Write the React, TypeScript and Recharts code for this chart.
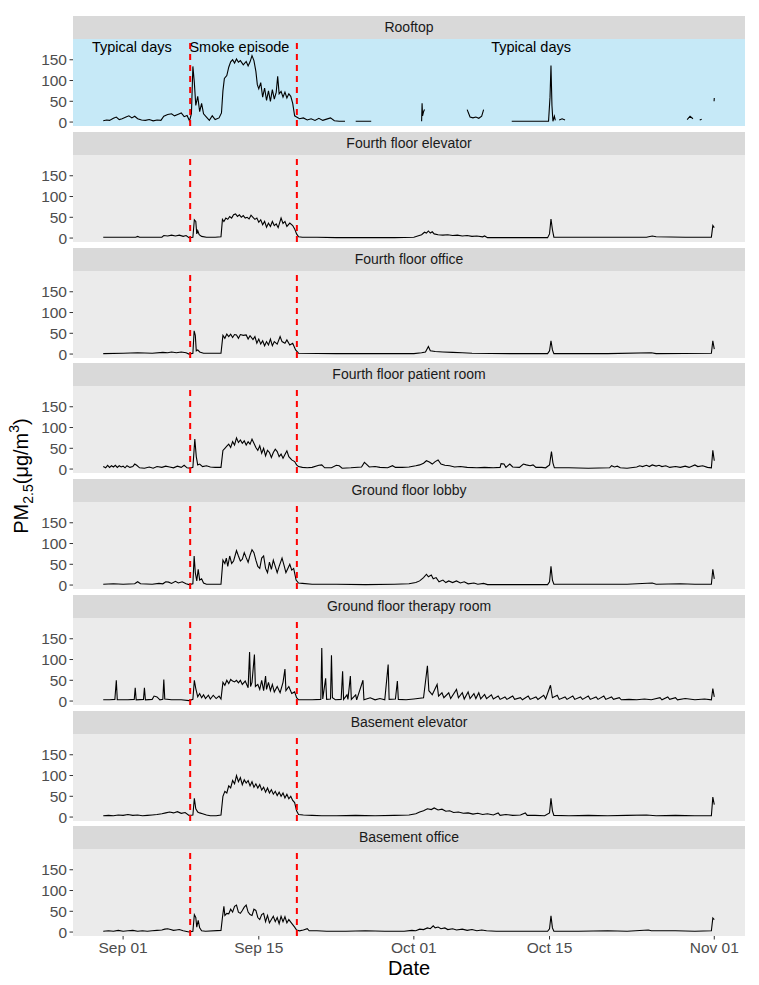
import { LineChart, Line, XAxis, YAxis, CartesianGrid, ReferenceLine, ReferenceDot } from "recharts";

type Pt = [number, number | null];

// x = days since Sep 01, y = PM2.5 (µg/m3)
const facetNames = [
  "Rooftop",
  "Fourth floor elevator",
  "Fourth floor office",
  "Fourth floor patient room",
  "Ground floor lobby",
  "Ground floor therapy room",
  "Basement elevator",
  "Basement office",
];

const xTickDays = [0, 14, 30, 44, 61];
const xTickLabels = ["Sep 01", "Sep 15", "Oct 01", "Oct 15", "Nov 01"];
const yTicks = [0, 50, 100, 150];
const smokeStart = 6.92;
const smokeEnd = 17.93;

const periodLabels = ["Typical days", "Smoke episode", "Typical days"];
const periodLabelDays = [0.9, 12.0, 42.1];
const periodLabelY = 180;

const rooftop: Pt[] = [
  [-2.05, 3], [-1.7, 5], [-1.4, 4], [-1.0, 9], [-0.7, 12], [-0.4, 6], [-0.1, 8], [0.3, 12], [0.6, 15], [0.9, 10],
  [1.2, 14], [1.5, 8], [1.9, 5], [2.3, 4], [2.7, 6], [3.1, 3], [3.5, 5], [3.9, 4], [4.2, 14], [4.6, 18], [5.0, 20],
  [5.3, 15], [5.7, 19], [6.0, 22], [6.3, 13], [6.6, 16], [6.85, 3],
  [7.05, 20], [7.2, 134], [7.35, 95], [7.5, 40], [7.7, 62], [7.9, 25], [8.1, 45], [8.3, 20], [8.6, 12], [8.9, 4],
  [9.2, 15], [9.5, 6], [9.9, 10], [10.15, 22], [10.3, 75], [10.45, 105], [10.7, 112], [10.9, 132], [11.1, 145],
  [11.3, 150], [11.5, 142], [11.7, 152], [11.9, 144], [12.1, 148], [12.4, 138], [12.7, 146], [12.9, 135], [13.1, 145],
  [13.3, 160], [13.5, 148], [13.7, 122], [13.85, 90], [14.0, 80], [14.2, 95], [14.4, 60], [14.6, 82], [14.8, 52],
  [15.0, 75], [15.2, 50], [15.4, 78], [15.6, 55], [15.8, 72], [15.95, 110], [16.1, 68], [16.3, 74], [16.5, 60],
  [16.7, 72], [16.9, 58], [17.1, 68], [17.3, 62], [17.5, 45], [17.7, 15], [17.9, 12],
  [18.2, 8], [18.6, 10], [19.0, 5], [19.4, 8], [19.8, 4], [20.2, 9], [20.6, 4], [21.0, 7], [21.4, 10], [21.8, 3],
  [22.3, 2], [22.9, 2], [23.1, null],
  [24.0, 2], [25.6, 2], [25.7, null],
  [30.8, 2], [30.85, 45], [30.9, 15], [31.0, 25], [31.1, 30], [31.2, null],
  [35.5, 30], [35.8, 12], [36.1, 10], [36.4, 12], [36.7, 9], [37.0, 14], [37.2, 30], [37.3, null],
  [40.1, 2], [43.9, 2], [44.05, 60], [44.15, 136], [44.25, 40], [44.35, 2], [44.5, 14], [44.6, 4], [44.7, null],
  [45.0, 5], [45.3, 8], [45.6, 5], [45.8, null],
  [58.2, 6], [58.5, 14], [58.8, 8], [59.0, null],
  [59.5, 5], [59.7, 7], [59.8, null],
  [60.98, 50], [61.0, 58],
];

const fourthElevator: Pt[] = [
  [-2.05, 2], [-1, 2], [0, 2], [1.3, 2], [1.5, 4], [1.7, 2], [3, 2], [4.0, 2], [4.2, 6], [4.6, 5], [5.0, 7], [5.4, 5],
  [5.8, 7], [6.2, 4], [6.5, 6], [6.8, 1],
  [7.2, 2], [7.35, 44], [7.5, 40], [7.6, 10], [7.7, 18], [7.85, 8], [8.1, 4], [8.6, 2], [9.5, 2], [10.1, 3], [10.25, 45],
  [10.4, 40], [10.6, 48], [10.8, 45], [11.0, 52], [11.2, 48], [11.4, 56], [11.6, 58], [11.8, 52], [12.0, 56], [12.2, 50],
  [12.4, 54], [12.6, 48], [12.8, 50], [13.0, 46], [13.2, 55], [13.4, 50], [13.6, 45], [13.8, 48], [14.0, 38], [14.2, 44],
  [14.4, 32], [14.6, 40], [14.8, 26], [15.0, 36], [15.2, 28], [15.4, 40], [15.6, 30], [15.8, 34], [16.0, 25], [16.3, 48],
  [16.5, 35], [16.7, 40], [16.9, 28], [17.2, 36], [17.5, 30], [17.7, 22], [17.9, 10], [18.1, 3], [18.5, 2],
  [20, 2], [22, 1], [25, 1], [28, 1], [30.0, 2], [30.4, 5], [30.8, 8], [31.1, 14], [31.3, 12], [31.5, 17], [31.7, 12],
  [31.9, 15], [32.1, 10], [32.5, 8], [33, 7], [33.5, 8], [34, 6], [34.5, 7], [35, 5], [35.5, 6], [36, 4], [36.5, 5],
  [37.1, 3], [37.3, 5], [37.6, 1], [40, 1], [43.8, 1], [44.0, 10], [44.15, 46], [44.3, 20], [44.45, 2], [46, 2], [50, 2],
  [54, 2], [54.6, 5], [55, 3], [58, 2], [60.7, 2], [60.85, 30], [61.0, 25],
];

const fourthOffice: Pt[] = [
  [-2.05, 1], [0, 2], [1.5, 3], [3, 2], [4.1, 4], [4.6, 3], [5.0, 5], [5.5, 3], [6.0, 5], [6.5, 3], [6.8, 0],
  [7.2, 2], [7.33, 56], [7.45, 45], [7.55, 8], [7.7, 10], [7.9, 5], [8.3, 2], [10.1, 2], [10.3, 45], [10.5, 38],
  [10.7, 48], [10.9, 42], [11.1, 48], [11.3, 40], [11.5, 47], [11.7, 46], [11.9, 38], [12.1, 47], [12.4, 45], [12.7, 46],
  [12.9, 36], [13.1, 44], [13.4, 35], [13.6, 42], [13.8, 26], [14.0, 36], [14.2, 24], [14.4, 32], [14.6, 20], [14.8, 30],
  [15.0, 22], [15.2, 36], [15.4, 20], [15.6, 30], [15.9, 24], [16.2, 42], [16.4, 30], [16.7, 26], [16.9, 34], [17.2, 22],
  [17.5, 26], [17.8, 10], [18.1, 2],
  [22, 1], [26, 1], [30, 1], [30.8, 3], [31.2, 5], [31.5, 18], [31.7, 8], [32.2, 6], [33, 5], [34, 4], [35, 3], [36, 2],
  [40, 1], [43.8, 1], [44.0, 8], [44.15, 32], [44.3, 10], [44.45, 1], [50, 1], [54.5, 3], [55, 1], [60.7, 2],
  [60.85, 32], [61.0, 12],
];

const fourthPatient: Pt[] = [
  [-2.05, 6], [-1.8, 3], [-1.6, 9], [-1.4, 4], [-1.2, 8], [-1, 5], [-0.8, 9], [-0.6, 4], [-0.4, 8], [-0.2, 5], [0, 7],
  [0.2, 3], [0.4, 8], [0.7, 4], [1.0, 6], [1.2, 12], [1.4, 9], [1.7, 3], [2.2, 2], [2.7, 5], [3.1, 2], [3.5, 6], [4.0, 4],
  [4.4, 7], [4.8, 5], [5.2, 3], [5.6, 7], [6.0, 4], [6.3, 9], [6.6, 3], [6.9, 2],
  [7.2, 4], [7.4, 72], [7.55, 30], [7.7, 10], [7.9, 12], [8.2, 6], [8.6, 8], [9.0, 5], [9.5, 4], [10.1, 4], [10.3, 45],
  [10.5, 50], [10.7, 55], [10.9, 60], [11.1, 52], [11.3, 66], [11.5, 58], [11.7, 75], [11.9, 64], [12.1, 70], [12.3, 62],
  [12.5, 68], [12.7, 58], [12.9, 66], [13.1, 60], [13.3, 72], [13.5, 62], [13.7, 52], [13.9, 45], [14.1, 56], [14.3, 38],
  [14.5, 50], [14.7, 32], [14.9, 45], [15.1, 40], [15.3, 28], [15.5, 40], [15.7, 48], [15.9, 42], [16.1, 30], [16.3, 36],
  [16.5, 26], [16.7, 35], [16.9, 44], [17.1, 30], [17.4, 22], [17.7, 18], [17.9, 10], [18.1, 6], [18.5, 4],
  [19, 3], [19.5, 4], [20.2, 9], [20.5, 10], [20.8, 3], [21.5, 3], [22.0, 9], [22.3, 8], [22.6, 2], [23.5, 3], [24.6, 5],
  [24.9, 16], [25.1, 12], [25.4, 5], [26, 6], [26.5, 4], [27.3, 3], [27.8, 8], [28.1, 4], [28.8, 4], [29.5, 5], [30.2, 8],
  [30.6, 10], [31.0, 14], [31.3, 20], [31.6, 17], [31.9, 12], [32.2, 18], [32.5, 22], [32.8, 12], [33.2, 9], [33.7, 8],
  [34.2, 5], [34.8, 6], [35.5, 4], [36.5, 3], [37.3, 4], [38.2, 3], [38.9, 4], [39.0, 13], [39.3, 12], [39.5, 4],
  [39.9, 12], [40.2, 5], [40.9, 4], [41.3, 12], [41.6, 10], [42, 8], [42.3, 10], [42.6, 4], [43.2, 4], [43.6, 3],
  [44.0, 10], [44.2, 42], [44.35, 15], [44.5, 3], [46, 3], [48, 2], [50.2, 3], [50.4, 8], [50.7, 5], [51, 7], [51.3, 3],
  [52, 2], [53, 5], [53.3, 8], [53.6, 6], [54, 9], [54.3, 6], [54.6, 10], [55, 7], [55.3, 9], [55.6, 6], [56, 8],
  [56.4, 4], [57, 6], [57.5, 4], [58, 7], [58.4, 4], [59.0, 10], [59.3, 6], [59.8, 8], [60.3, 4], [60.7, 3], [60.85, 45],
  [61.0, 20],
];

const groundLobby: Pt[] = [
  [-2.05, 2], [-1, 3], [0, 2], [1.2, 3], [1.5, 8], [1.8, 3], [3, 2], [3.7, 4], [4.1, 3], [4.4, 8], [4.7, 7], [5.0, 4],
  [5.4, 9], [5.7, 5], [6.1, 8], [6.5, 3], [6.8, 1],
  [7.2, 3], [7.33, 70], [7.45, 30], [7.6, 10], [7.75, 38], [7.9, 12], [8.1, 15], [8.3, 5], [8.6, 2], [10.1, 2], [10.3, 60],
  [10.5, 52], [10.65, 65], [10.8, 45], [11.0, 70], [11.2, 52], [11.4, 58], [11.7, 83], [11.9, 70], [12.1, 58], [12.3, 62],
  [12.5, 78], [12.7, 66], [12.9, 55], [13.1, 72], [13.3, 85], [13.5, 78], [13.7, 60], [13.9, 45], [14.1, 40], [14.3, 65],
  [14.5, 70], [14.7, 40], [14.9, 30], [15.1, 55], [15.3, 38], [15.5, 60], [15.7, 45], [15.9, 30], [16.1, 45], [16.4, 65],
  [16.6, 48], [16.8, 30], [17.0, 40], [17.2, 50], [17.4, 36], [17.6, 40], [17.85, 12], [18.1, 5], [18.5, 4],
  [19.5, 2], [22, 2], [25, 1], [28, 2], [29.5, 3], [30.2, 6], [30.6, 10], [31.0, 18], [31.3, 26], [31.5, 20], [31.8, 24],
  [32.0, 15], [32.3, 18], [32.6, 8], [33.0, 12], [33.3, 6], [33.6, 10], [34.0, 6], [34.4, 10], [34.8, 5], [35.2, 8],
  [35.6, 3], [36.2, 5], [36.6, 2], [37.2, 4], [37.6, 1], [40, 1], [43.8, 1], [44.0, 8], [44.15, 45], [44.3, 12],
  [44.45, 2], [48, 2], [52, 2], [54.6, 5], [55, 2], [57.5, 3], [59, 2], [60.7, 2], [60.85, 38], [61.0, 15],
];

const groundTherapy: Pt[] = [
  [-2.05, 3], [-1.4, 3], [-0.85, 4], [-0.7, 50], [-0.6, 3], [0.5, 3], [1.15, 4], [1.25, 32], [1.35, 3], [2.1, 4],
  [2.2, 32], [2.3, 3], [3.0, 4], [3.2, 12], [3.5, 10], [3.8, 3], [4.1, 4], [4.2, 52], [4.3, 5], [5.0, 3], [6, 3], [6.8, 1],
  [7.2, 4], [7.35, 50], [7.5, 30], [7.7, 10], [7.9, 18], [8.1, 8], [8.3, 15], [8.5, 6], [8.8, 14], [9.0, 5], [9.3, 14],
  [9.6, 6], [9.9, 12], [10.1, 5], [10.3, 45], [10.5, 38], [10.7, 50], [10.9, 42], [11.1, 52], [11.3, 48], [11.5, 46],
  [11.7, 50], [11.9, 44], [12.1, 50], [12.3, 40], [12.6, 48], [12.9, 32], [13.05, 118], [13.15, 35], [13.3, 45],
  [13.55, 112], [13.65, 35], [13.9, 40], [14.1, 28], [14.3, 50], [14.5, 25], [14.7, 60], [14.8, 28], [15.0, 45],
  [15.2, 25], [15.4, 40], [15.6, 22], [15.9, 35], [16.2, 20], [16.5, 45], [16.7, 77], [16.8, 25], [17.1, 35], [17.4, 18],
  [17.7, 22], [17.9, 8], [18.1, 3],
  [19.5, 3], [20.4, 4], [20.5, 128], [20.6, 5], [20.9, 55], [21.0, 4], [21.4, 5], [21.5, 110], [21.6, 8], [21.9, 3],
  [22.5, 4], [22.65, 72], [22.75, 4], [23.1, 15], [23.2, 4], [23.45, 60], [23.55, 4], [24.0, 15], [24.1, 3], [24.75, 50],
  [24.85, 3], [25.5, 8], [26, 3], [26.5, 6], [27.0, 3], [27.35, 88], [27.45, 4], [28.1, 5], [28.3, 48], [28.4, 4],
  [29.2, 3], [30.0, 5], [31.0, 8], [31.4, 85], [31.55, 25], [31.9, 15], [32.4, 40], [32.55, 12], [32.9, 20], [33.1, 8],
  [33.6, 20], [33.8, 6], [34.4, 28], [34.6, 8], [35.0, 20], [35.2, 5], [35.6, 22], [35.8, 6], [36.2, 18], [36.4, 6],
  [36.7, 20], [36.9, 5], [37.3, 16], [37.5, 6], [38.0, 15], [38.2, 5], [38.7, 12], [38.9, 4], [39.4, 10], [39.6, 4],
  [40.2, 12], [40.4, 4], [41.0, 8], [41.2, 3], [41.8, 12], [42.0, 4], [42.6, 10], [42.8, 4], [43.4, 14], [43.6, 5],
  [44.1, 38], [44.3, 8], [44.8, 14], [45.0, 4], [45.6, 10], [45.8, 4], [46.4, 12], [46.6, 4], [47.2, 10], [47.4, 4],
  [48.0, 12], [48.2, 4], [48.8, 10], [49.0, 4], [49.6, 12], [49.8, 4], [50.4, 10], [50.6, 4], [51.2, 8], [51.4, 3],
  [52.2, 4], [53.0, 3], [53.8, 5], [54.5, 3], [55.4, 8], [55.6, 3], [56.2, 10], [56.4, 4], [57.0, 8], [57.2, 3],
  [58.0, 6], [59, 3], [60.0, 5], [60.7, 3], [60.85, 30], [61.0, 10],
];

const basementElevator: Pt[] = [
  [-2.05, 3], [-1.5, 4], [-1, 3], [-0.5, 5], [0, 4], [0.5, 6], [1, 4], [1.5, 5], [2, 3], [2.5, 4], [3, 5], [3.5, 6], [4, 8],
  [4.4, 10], [4.8, 12], [5.2, 10], [5.6, 13], [6.0, 9], [6.4, 11], [6.8, 4],
  [7.2, 5], [7.35, 45], [7.5, 20], [7.7, 12], [7.9, 10], [8.2, 8], [8.6, 5], [9.0, 3], [9.6, 3], [10.1, 5], [10.3, 50],
  [10.5, 62], [10.7, 58], [10.9, 75], [11.1, 70], [11.3, 88], [11.5, 80], [11.7, 100], [11.9, 85], [12.1, 95], [12.3, 78],
  [12.5, 90], [12.7, 82], [12.9, 88], [13.1, 75], [13.3, 85], [13.5, 72], [13.7, 80], [13.9, 70], [14.1, 78], [14.3, 65],
  [14.5, 72], [14.7, 60], [14.9, 70], [15.1, 58], [15.3, 66], [15.5, 55], [15.7, 62], [15.9, 52], [16.1, 60], [16.3, 50],
  [16.5, 58], [16.7, 46], [16.9, 55], [17.1, 44], [17.3, 50], [17.5, 40], [17.7, 35], [17.9, 15], [18.1, 6],
  [18.6, 5], [19.5, 4], [20.5, 3], [22, 3], [24, 4], [26, 3], [28, 4], [29.5, 5], [30.2, 8], [30.6, 12], [31.0, 15],
  [31.4, 20], [31.8, 18], [32.1, 22], [32.5, 17], [32.9, 19], [33.3, 14], [33.7, 15], [34.1, 11], [34.6, 12], [35.1, 9],
  [35.6, 10], [36.1, 7], [36.6, 9], [37.1, 6], [37.6, 8], [38.2, 5], [38.7, 10], [38.9, 4], [39.5, 6], [40.2, 4], [41, 5],
  [41.5, 10], [41.7, 4], [42.5, 4], [43.5, 3], [44.0, 10], [44.15, 45], [44.3, 15], [44.45, 4], [46, 3], [48, 4], [50, 3],
  [52, 4], [54, 5], [55, 3], [57, 4], [59, 3], [60.7, 3], [60.85, 48], [61.0, 30],
];

const basementOffice: Pt[] = [
  [-2.05, 2], [-1.5, 3], [-1, 2], [-0.5, 4], [0, 2], [0.5, 3], [1, 4], [1.5, 2], [2, 3], [2.5, 2], [3, 3], [3.5, 4], [4, 5],
  [4.3, 7], [4.6, 8], [4.9, 6], [5.2, 4], [5.5, 5], [5.8, 6], [6.2, 3], [6.8, 0],
  [7.2, 2], [7.35, 42], [7.5, 35], [7.6, 12], [7.75, 28], [7.9, 10], [8.1, 3], [8.5, 2], [10.1, 4], [10.25, 35],
  [10.4, 62], [10.5, 40], [10.7, 45], [10.9, 44], [11.1, 55], [11.3, 48], [11.5, 62], [11.7, 65], [11.9, 48], [12.1, 45],
  [12.3, 52], [12.5, 60], [12.7, 65], [12.9, 48], [13.1, 42], [13.3, 40], [13.5, 55], [13.7, 52], [13.9, 35], [14.1, 30],
  [14.3, 42], [14.5, 45], [14.7, 25], [14.9, 40], [15.1, 22], [15.3, 30], [15.5, 38], [15.7, 25], [15.9, 35], [16.1, 20],
  [16.3, 38], [16.5, 25], [16.7, 37], [16.9, 22], [17.1, 30], [17.3, 24], [17.5, 18], [17.7, 12], [17.9, 5], [18.2, 3],
  [18.6, 5], [19.0, 8], [19.2, 3], [20, 3], [21, 2], [23, 2], [25, 3], [27, 2], [29, 2], [29.8, 4], [30.2, 3], [30.6, 7],
  [31.0, 6], [31.4, 10], [31.7, 8], [32.0, 15], [32.2, 10], [32.5, 12], [32.8, 8], [33.2, 10], [33.5, 6], [34.0, 8],
  [34.4, 5], [35.0, 7], [35.5, 4], [36.0, 6], [36.5, 3], [37.0, 5], [37.5, 3], [38.5, 2], [40, 2], [43.8, 2], [44.0, 8],
  [44.15, 39], [44.3, 10], [44.45, 2], [47, 2], [50, 3], [52, 2], [54.2, 5], [54.5, 3], [57, 3], [59, 2], [60.7, 3],
  [60.85, 34], [61.0, 30],
];

const facetSeries = [
  rooftop, fourthElevator, fourthOffice, fourthPatient,
  groundLobby, groundTherapy, basementElevator, basementOffice,
];

const FONT = '"Liberation Sans", Arial, Helvetica, sans-serif';
const X_DOMAIN: [number, number] = [-5.17, 64.17];
const Y_DOMAIN: [number, number] = [-9.5, 200];
const TOP0 = 16.3;
const STEP = 115.7;
const STRIP_H = 23;
const PANEL_H = 87;
const LEFT = 73;
const PANEL_W = 672;

function Facet({ index }: { index: number }) {
  const isLast = index === facetSeries.length - 1;
  const isRoof = index === 0;
  const data = facetSeries[index].map(([day, pm]) => ({ day, pm }));
  const top = TOP0 + index * STEP;
  return (
    <div style={{ position: "absolute", left: 0, top, width: 759 }}>
      <div
        style={{
          position: "absolute", left: LEFT, top: 0, width: PANEL_W, height: STRIP_H,
          background: "#D9D9D9", color: "#1A1A1A", fontFamily: FONT, fontSize: 14,
          lineHeight: `${STRIP_H}px`, textAlign: "center",
        }}
      >
        {facetNames[index]}
      </div>
      <div style={{ position: "absolute", left: 0, top: STRIP_H, overflow: "visible" }}>
        <LineChart
          width={759}
          height={PANEL_H + (isLast ? 30 : 0)}
          data={data}
          margin={{ top: 0, right: 759 - LEFT - PANEL_W, bottom: 0, left: 0 }}
        >
          <CartesianGrid horizontal={false} vertical={false} fill={isRoof ? "#C6E9F7" : "#EBEBEB"} />
          <XAxis
            dataKey="day"
            type="number"
            domain={X_DOMAIN}
            allowDataOverflow
            ticks={xTickDays}
            tickFormatter={(v) => xTickLabels[xTickDays.indexOf(v)] ?? ""}
            hide={!isLast}
            height={30}
            axisLine={false}
            tickSize={3.5}
            tickMargin={2.5}
            tickLine={{ stroke: "#333333" }}
            tick={{ fill: "#4D4D4D", fontSize: 15.5, fontFamily: FONT }}
            interval={0}
          />
          <YAxis
            type="number"
            domain={Y_DOMAIN}
            allowDataOverflow
            ticks={yTicks}
            width={LEFT}
            axisLine={false}
            tickSize={3.5}
            tickMargin={2.5}
            tickLine={{ stroke: "#333333" }}
            tick={{ fill: "#4D4D4D", fontSize: 15.5, fontFamily: FONT }}
            interval={0}
          />
          <Line
            type="linear"
            dataKey="pm"
            stroke="#000000"
            strokeWidth={1.1}
            dot={false}
            connectNulls={false}
            isAnimationActive={false}
          />
          <ReferenceLine x={smokeStart} stroke="#FF0000" strokeWidth={2} strokeDasharray="6 5" />
          <ReferenceLine x={smokeEnd} stroke="#FF0000" strokeWidth={2} strokeDasharray="6 5" />
          {isRoof &&
            periodLabels.map((txt, i) => (
              <ReferenceDot
                key={i}
                x={periodLabelDays[i]}
                y={periodLabelY}
                r={1}
                fill="none"
                stroke="none"
                label={{ value: txt, position: "center", fill: "#000000", fontSize: 14.5, fontFamily: FONT }}
              />
            ))}
        </LineChart>
      </div>
    </div>
  );
}

export default function App() {
  return (
    <div style={{ position: "absolute", left: 0, top: 0, width: 759, height: 985, background: "#FFFFFF", overflow: "hidden" }}>
      <style>{`.recharts-wrapper, .recharts-surface { overflow: visible !important; }`}</style>
      {facetNames.map((_, i) => (
        <Facet key={i} index={i} />
      ))}
      <svg width={759} height={985} style={{ position: "absolute", left: 0, top: 0, pointerEvents: "none" }}>
        <text
          transform="translate(27.5,476) rotate(-90)"
          textAnchor="middle"
          fontFamily={FONT}
          fontSize={20}
          fill="#000000"
        >
          PM
          <tspan fontSize={14} dy={5}>2.5</tspan>
          <tspan dy={-5}>(μg/m</tspan>
          <tspan fontSize={14} dy={-9}>3</tspan>
          <tspan dy={9}>)</tspan>
        </text>
        <text x={409} y={975} textAnchor="middle" fontFamily={FONT} fontSize={20} fill="#000000">
          Date
        </text>
      </svg>
    </div>
  );
}
